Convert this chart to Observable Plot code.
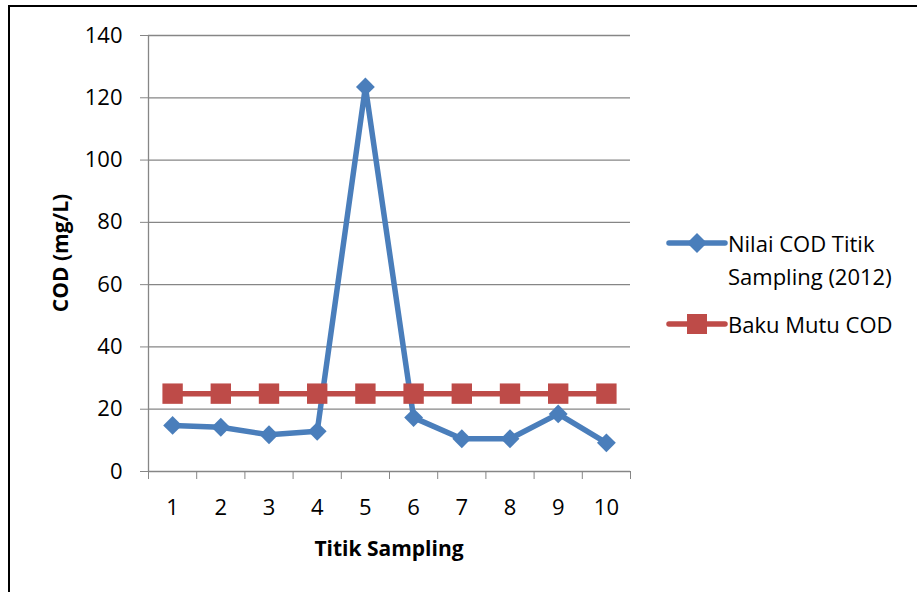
<!DOCTYPE html>
<html><head><meta charset="utf-8">
<script src="https://cdn.jsdelivr.net/npm/d3@7"></script>
<script src="https://cdn.jsdelivr.net/npm/@observablehq/plot@0.6"></script>
<style>
body{margin:0;background:#fff;font-family:"Open Sans",sans-serif;color:#000;}
#wrap{position:relative;width:917px;height:592px;overflow:hidden;background:#fff;}
#border{position:absolute;left:8px;top:5px;width:1000px;height:700px;border-left:2px solid #000;border-top:2px solid #000;}
#chart{position:absolute;left:0;top:0;}
.ytitle{position:absolute;left:60px;top:253px;transform:translate(-50%,-50%) rotate(-90deg);font-weight:bold;font-size:21px;white-space:nowrap;}
.xtitle{position:absolute;left:389px;top:548px;transform:translate(-50%,-50%);font-weight:bold;font-size:21px;white-space:nowrap;}
.lg{position:absolute;font-size:22px;line-height:33px;white-space:nowrap;}
.sw{position:absolute;}
</style></head>
<body>
<div id="wrap">
  <div id="border"></div>
  <div id="chart"></div>
  <div class="ytitle" id="ytitle"></div>
  <div class="xtitle" id="xtitle"></div>
  <svg class="sw" style="left:666px;top:231px" width="64" height="24"><line x1="3" x2="59" y1="12" y2="12" stroke="#4A7EBB" stroke-width="5.5" stroke-linecap="round"/><path d="M31,2 L41,12 L31,22 L21,12Z" fill="#4A7EBB"/></svg>
  <div class="lg" id="lg1" style="left:728px;top:227px"></div>
  <svg class="sw" style="left:666px;top:312px" width="64" height="24"><line x1="3" x2="59" y1="12" y2="12" stroke="#BE4B48" stroke-width="5.5" stroke-linecap="round"/><rect x="21" y="2" width="20" height="20" fill="#BE4B48"/></svg>
  <div class="lg" id="lg2" style="left:728px;top:308px"></div>
</div>
<script>
const titik = [1, 2, 3, 4, 5, 6, 7, 8, 9, 10];
const nilaiCOD = [14.8, 14.2, 11.8, 12.9, 123.5, 17.3, 10.5, 10.5, 18.5, 9.2];
const bakuMutu = [25, 25, 25, 25, 25, 25, 25, 25, 25, 25];
const yTicks = [0, 20, 40, 60, 80, 100, 120, 140];
const seriesNames = ["Nilai COD Titik\nSampling (2012)", "Baku Mutu COD"];
const xTitle = "Titik Sampling";
const yTitle = "COD (mg/L)";

const data = titik.map((t, i) => ({t, cod: nilaiCOD[i], baku: bakuMutu[i]}));
const boundaries = d3.range(titik.length + 1).map(i => titik[0] - 0.5 + i);

const plot = Plot.plot({
  width: 917, height: 592,
  marginLeft: 148, marginRight: 287, marginTop: 35, marginBottom: 121,
  style: {fontFamily: '"Open Sans", sans-serif', fontSize: "22px", color: "#000", background: "transparent", overflow: "visible"},
  x: {domain: [boundaries[0], boundaries[boundaries.length - 1]], label: null},
  y: {domain: [0, 140], label: null},
  marks: [
    Plot.ruleY(yTicks, {stroke: "#868686", strokeWidth: 1.3}),
    Plot.ruleX([boundaries[0]], {stroke: "#868686", strokeWidth: 1.3}),
    Plot.axisY({ticks: yTicks, tickSize: 8, tickPadding: 18, stroke: "#868686", fill: "#000", label: null, fontSize: 22}),
    Plot.axisX({ticks: boundaries, tickSize: 8, tickFormat: () => "", stroke: "#868686", label: null}),
    Plot.axisX({ticks: titik, tickSize: 0, tickPadding: 28, label: null, fontSize: 22, fill: "#000"}),
    Plot.line(data, {x: "t", y: "cod", stroke: "#4A7EBB", strokeWidth: 5.5}),
    Plot.dot(data, {x: "t", y: "cod", symbol: "diamond2", r: 8.5, fill: "#4A7EBB", stroke: null}),
    Plot.line(data, {x: "t", y: "baku", stroke: "#BE4B48", strokeWidth: 5.5}),
    Plot.dot(data, {x: "t", y: "baku", symbol: "square", r: 11.5, fill: "#BE4B48", stroke: null})
  ]
});
document.getElementById("chart").appendChild(plot);
document.getElementById("xtitle").textContent = xTitle;
document.getElementById("ytitle").textContent = yTitle;
document.getElementById("lg1").innerHTML = seriesNames[0].split("\n").join("<br>");
document.getElementById("lg2").textContent = seriesNames[1];
</script>
</body></html>
